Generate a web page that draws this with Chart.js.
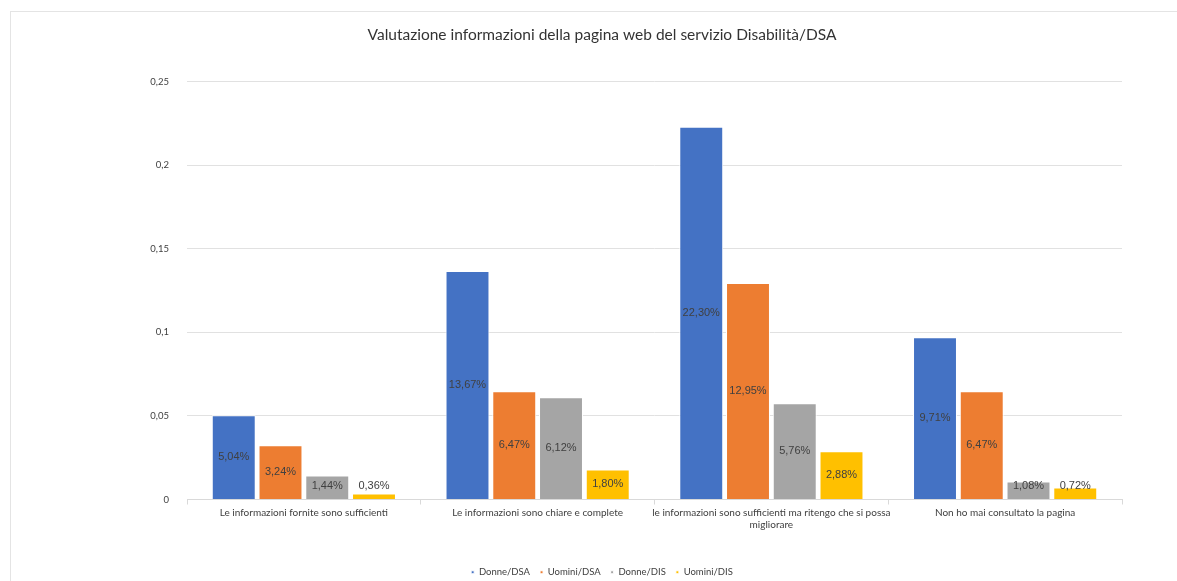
<!DOCTYPE html>
<html>
<head>
<meta charset="utf-8">
<script src="https://cdn.jsdelivr.net/npm/chart.js@4/dist/chart.umd.min.js"></script>
<style>
    body { margin: 0; background: #fff; }
    #wrap { position: absolute; left: 0; top: 0; width: 1177px; height: 581px; }
</style>
</head>
<body>
<div id="wrap"><canvas id="chart" width="1177" height="581"></canvas></div>
<script>
// Data
const categories = [
    'Le informazioni fornite sono sufficienti',
    'Le informazioni sono chiare e complete',
    ['le informazioni sono sufficienti ma ritengo che si possa', 'migliorare'],
    'Non ho mai consultato la pagina'
];
const seriesNames = ['Donne/DSA', 'Uomini/DSA', 'Donne/DIS', 'Uomini/DIS'];
const donneDSA = [0.0504, 0.1367, 0.2230, 0.0971];
const uominiDSA = [0.0324, 0.0647, 0.1295, 0.0647];
const donneDIS = [0.0144, 0.0612, 0.0576, 0.0108];
const uominiDIS = [0.0036, 0.0180, 0.0288, 0.0072];
const yTickLabels = ['0', '0,05', '0,1', '0,15', '0,2', '0,25'];

const colors = ['#4472C4', '#ED7D31', '#A5A5A5', '#FFC000'];
const fontFamily = 'Lato, "Open Sans", sans-serif';

// Frame around the chart
const framePlugin = {
    id: 'frame',
    beforeDraw(chart) {
        const ctx = chart.ctx;
        ctx.save();
        ctx.fillStyle = '#fff';
        ctx.fillRect(0, 0, chart.width, chart.height);
        ctx.strokeStyle = '#e4e4e4';
        ctx.lineWidth = 1;
        ctx.strokeRect(10.5, 11.5, chart.width + 10, chart.height + 10);
        ctx.restore();
    }
};

// Percent labels inside the bars
const barLabels = {
    id: 'barLabels',
    afterDatasetsDraw(chart) {
        const ctx = chart.ctx;
        ctx.save();
        ctx.font = '11px "Liberation Sans", Arial, sans-serif';
        ctx.fillStyle = '#404040';
        ctx.textAlign = 'center';
        ctx.textBaseline = 'middle';
        chart.data.datasets.forEach((ds, i) => {
            chart.getDatasetMeta(i).data.forEach((bar, j) => {
                const text = (ds.data[j] * 100).toFixed(2).replace('.', ',') + '%';
                const y = Math.min((bar.y + bar.base) / 2, bar.base - 13);
                ctx.fillText(text, bar.x, y);
            });
        });
        ctx.restore();
    }
};

const ctx = document.getElementById('chart').getContext('2d');
new Chart(ctx, {
    type: 'bar',
    data: {
        labels: categories,
        datasets: [donneDSA, uominiDSA, donneDIS, uominiDIS].map((d, i) => ({
            label: seriesNames[i],
            data: d,
            backgroundColor: colors[i],
            borderColor: '#ffffff',
            borderWidth: 1,
            barPercentage: 0.94,
            categoryPercentage: 0.8
        }))
    },
    options: {
        responsive: false,
        animation: false,
        layout: { padding: { left: 82, right: 55, top: 0, bottom: -6 } },
        scales: {
            x: {
                grid: { drawOnChartArea: false, offset: true, tickLength: 5, color: '#d9d9d9' },
                border: { color: '#d9d9d9' },
                ticks: {
                    padding: 2,
                    autoSkip: false,
                    color: '#404040',
                    font: { family: fontFamily, size: 10 },
                    maxRotation: 0
                },
                afterFit: s => { s.height = 58; }
            },
            y: {
                min: 0,
                max: 0.25,
                grid: { color: '#e1e1e1', drawTicks: false },
                border: { display: false },
                ticks: {
                    stepSize: 0.05,
                    padding: 18,
                    color: '#404040',
                    font: { family: fontFamily, size: 9.5 },
                    callback: (v, i) => yTickLabels[i]
                },
                afterFit: s => { s.width = 105; }
            }
        },
        plugins: {
            title: {
                display: true,
                text: 'Valutazione informazioni della pagina web del servizio Disabilità/DSA',
                color: '#333333',
                font: { family: fontFamily, size: 15.5, weight: 'normal' },
                padding: { top: 26, bottom: 37 }
            },
            legend: {
                position: 'bottom',
                labels: {
                    boxWidth: 3,
                    boxHeight: 3,
                    padding: 10,
                    color: '#404040',
                    font: { family: fontFamily, size: 9.5 }
                }
            },
            tooltip: { enabled: false }
        }
    },
    plugins: [framePlugin, barLabels]
});
</script>
</body>
</html>
